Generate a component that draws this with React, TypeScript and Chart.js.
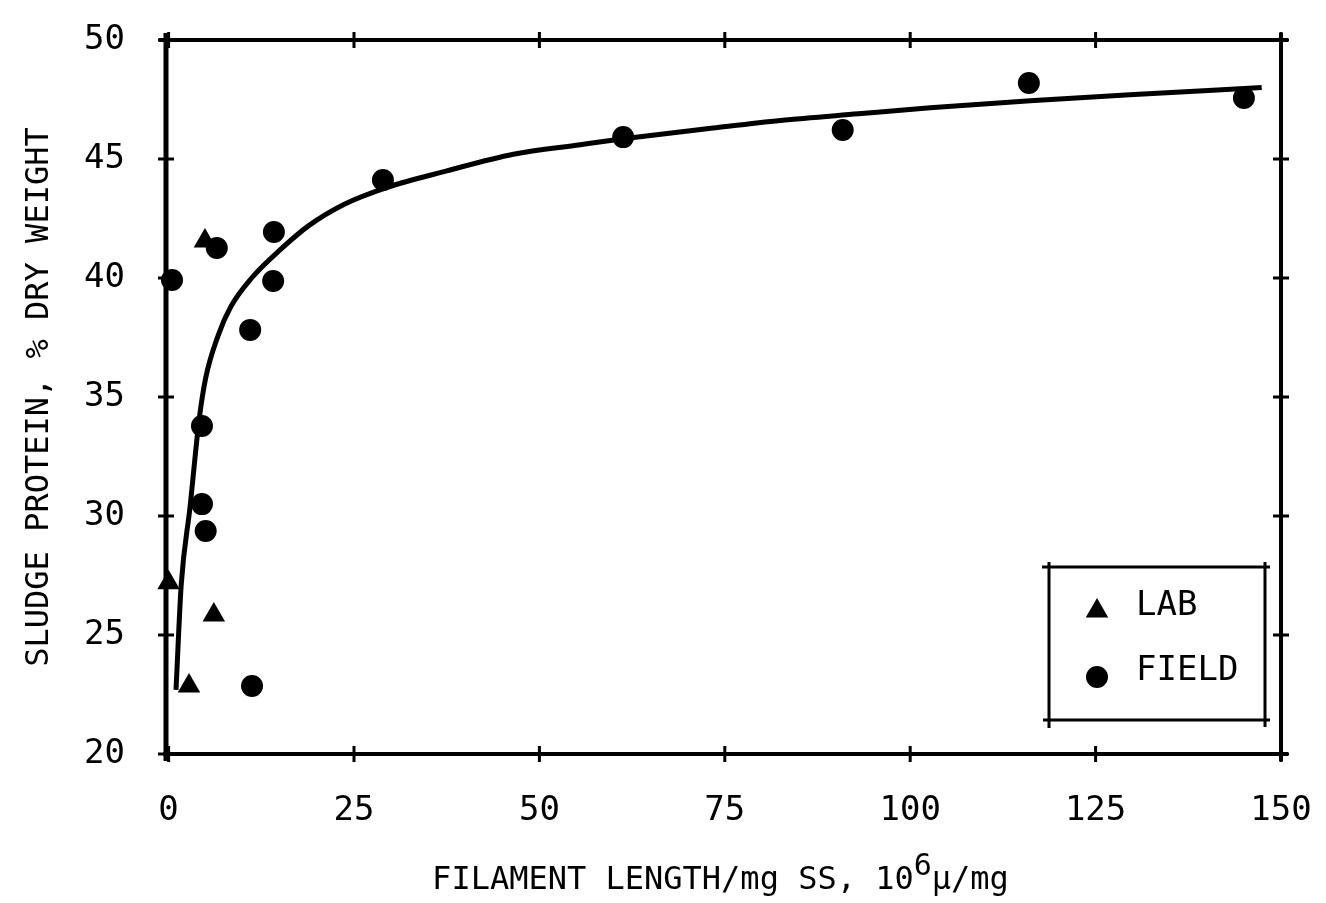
import React, { useEffect, useRef } from "react";
import { Chart, registerables } from "chart.js";

Chart.register(...registerables);

// ---- data ----
const xTicks = [0, 25, 50, 75, 100, 125, 150];
const yTicks = [20, 25, 30, 35, 40, 45, 50];

const seriesNames = ["LAB", "FIELD"];

const labX = [4.9, 0.0, 2.75, 6.1];
const labY = [41.55, 27.2, 22.86, 25.84];

const fieldX = [0.46, 6.5, 14.2, 14.1, 11.0, 4.5, 4.5, 5.0, 11.25, 28.9, 61.3, 90.9, 116.0, 145.0];
const fieldY = [39.92, 41.26, 41.93, 39.87, 37.82, 33.78, 30.5, 29.37, 22.86, 44.12, 45.92, 46.22, 48.19, 47.56];

const fitX = [1.0, 1.7, 2.9, 4.1, 5.0, 6.7, 8.4, 11.2, 15.1, 18.9, 23.7, 29.4, 37.5, 46.5, 55.5, 61.3, 73.4, 82.5, 93.0, 102.7, 116.2, 129.6, 147.4];
const fitY = [22.69, 27.1, 30.4, 34.0, 35.8, 37.6, 38.8, 40.0, 41.2, 42.2, 43.1, 43.8, 44.5, 45.2, 45.6, 45.85, 46.3, 46.62, 46.9, 47.15, 47.45, 47.7, 48.0];

const xTitleMain = "FILAMENT LENGTH/mg SS, 10";
const xTitleSup = "6";
const xTitleEnd = "\u03bc/mg";
const yTitle = "SLUDGE PROTEIN, % DRY WEIGHT";

const FONT = "'DejaVu Sans Mono', monospace";

function drawTriangle(ctx: CanvasRenderingContext2D, x: number, y: number, r: number) {
  let rad = 0;
  ctx.beginPath();
  ctx.moveTo(x + Math.sin(rad) * r, y - Math.cos(rad) * r);
  rad += (2 * Math.PI) / 3;
  ctx.lineTo(x + Math.sin(rad) * r, y - Math.cos(rad) * r);
  rad += (2 * Math.PI) / 3;
  ctx.lineTo(x + Math.sin(rad) * r, y - Math.cos(rad) * r);
  ctx.closePath();
  ctx.fill();
}

const framePlugin = {
  id: "frameTicks",
  beforeDatasetsDraw(chart: any) {
    const { ctx, chartArea: a, scales } = chart;
    const xs = scales.x;
    const ys = scales.y;
    ctx.save();
    ctx.strokeStyle = "#000";
    ctx.lineCap = "butt";
    ctx.lineWidth = 4;
    ctx.beginPath();
    ctx.moveTo(a.left - 7, a.top);
    ctx.lineTo(a.right + 7, a.top);
    ctx.moveTo(a.left - 3, a.bottom);
    ctx.lineTo(a.right + 7, a.bottom);
    ctx.moveTo(a.right, a.top - 7);
    ctx.lineTo(a.right, a.bottom + 7);
    ctx.stroke();
    ctx.lineWidth = 5;
    ctx.beginPath();
    ctx.moveTo(a.left, a.top - 7);
    ctx.lineTo(a.left, a.bottom + 7);
    ctx.stroke();
    ctx.lineWidth = 3;
    ctx.beginPath();
    for (const v of xTicks) {
      const px = xs.getPixelForValue(v);
      ctx.moveTo(px, a.top - 8);
      ctx.lineTo(px, a.top + 8);
      ctx.moveTo(px, a.bottom - 8);
      ctx.lineTo(px, a.bottom + 8);
    }
    for (const v of yTicks) {
      const py = ys.getPixelForValue(v);
      ctx.moveTo(a.left - 8, py);
      ctx.lineTo(a.left + 8, py);
      ctx.moveTo(a.right - 8, py);
      ctx.lineTo(a.right + 8, py);
    }
    ctx.stroke();
    ctx.restore();
  },
  afterDraw(chart: any) {
    const { ctx, chartArea: a } = chart;
    ctx.save();
    ctx.fillStyle = "#000";
    ctx.strokeStyle = "#000";

    // legend box
    ctx.lineWidth = 3;
    ctx.beginPath();
    ctx.moveTo(1042, 567);
    ctx.lineTo(1270, 567);
    ctx.moveTo(1043, 720);
    ctx.lineTo(1270, 720);
    ctx.moveTo(1049, 562);
    ctx.lineTo(1049, 728);
    ctx.moveTo(1265, 562);
    ctx.lineTo(1265, 727);
    ctx.stroke();
    drawTriangle(ctx, 1097, 611, 13);
    ctx.beginPath();
    ctx.arc(1097, 677, 11, 0, Math.PI * 2);
    ctx.fill();
    ctx.font = `34px ${FONT}`;
    ctx.textAlign = "left";
    ctx.textBaseline = "middle";
    ctx.fillText(seriesNames[0], 1136, 606);
    ctx.fillText(seriesNames[1], 1136, 671);

    // y title
    ctx.save();
    ctx.translate(40, (a.top + a.bottom) / 2);
    ctx.rotate(-Math.PI / 2);
    ctx.font = `32px ${FONT}`;
    ctx.textAlign = "center";
    ctx.textBaseline = "middle";
    ctx.fillText(yTitle, 0, 0);
    ctx.restore();

    // x title with superscript
    ctx.textBaseline = "alphabetic";
    ctx.textAlign = "left";
    ctx.font = `32px ${FONT}`;
    const w1 = ctx.measureText(xTitleMain).width;
    const w3 = ctx.measureText(xTitleEnd).width;
    ctx.font = `30px ${FONT}`;
    const w2 = ctx.measureText(xTitleSup).width;
    const total = w1 + w2 + w3;
    let sx = (a.left + a.right) / 2 - 3 - total / 2;
    const base = 889;
    ctx.font = `32px ${FONT}`;
    ctx.fillText(xTitleMain, sx, base);
    sx += w1;
    ctx.font = `30px ${FONT}`;
    ctx.fillText(xTitleSup, sx, base - 14);
    sx += w2;
    ctx.font = `32px ${FONT}`;
    ctx.fillText(xTitleEnd, sx, base);
    ctx.restore();
  },
};

function zeroPadding(scale: any) {
  scale.paddingTop = 0;
  scale.paddingBottom = 0;
  scale.paddingLeft = 0;
  scale.paddingRight = 0;
}

export default function App() {
  const ref = useRef<HTMLCanvasElement | null>(null);

  useEffect(() => {
    document.body.style.margin = "0";
    const canvas = ref.current;
    if (!canvas) return;
    const chart = new Chart(canvas, {
      type: "scatter",
      data: {
        datasets: [
          {
            label: "fit",
            data: fitX.map((x, i) => ({ x, y: fitY[i] })),
            showLine: true,
            borderColor: "#000",
            borderWidth: 5,
            pointRadius: 0,
            pointHoverRadius: 0,
            cubicInterpolationMode: "monotone",
            fill: false,
            clip: false as any,
            order: 3,
          } as any,
          {
            label: seriesNames[0],
            data: labX.map((x, i) => ({ x, y: labY[i] })),
            pointStyle: "triangle",
            pointRadius: 13,
            backgroundColor: "#000",
            borderColor: "#000",
            borderWidth: 0,
            clip: false as any,
            order: 1,
          } as any,
          {
            label: seriesNames[1],
            data: fieldX.map((x, i) => ({ x, y: fieldY[i] })),
            pointStyle: "circle",
            pointRadius: 11,
            backgroundColor: "#000",
            borderColor: "#000",
            borderWidth: 0,
            clip: false as any,
            order: 2,
          } as any,
        ],
      },
      options: {
        animation: false,
        responsive: false,
        events: [],
        layout: { padding: { top: 40, right: 45, bottom: 0, left: 0 } },
        plugins: {
          legend: { display: false },
          tooltip: { enabled: false },
          title: { display: false },
        },
        scales: {
          x: {
            type: "linear",
            min: -0.35,
            max: 150,
            border: { display: false },
            grid: { display: false, drawTicks: false },
            afterBuildTicks: (scale: any) => {
              scale.ticks = xTicks.map((v) => ({ value: v }));
            },
            afterFit: (scale: any) => {
              scale.height = 149;
              zeroPadding(scale);
            },
            ticks: {
              padding: 37,
              color: "#000",
              font: { family: FONT, size: 34 },
              maxRotation: 0,
              autoSkip: false,
            },
          },
          y: {
            type: "linear",
            min: 20,
            max: 50,
            border: { display: false },
            grid: { display: false, drawTicks: false },
            afterBuildTicks: (scale: any) => {
              scale.ticks = yTicks.map((v) => ({ value: v }));
            },
            afterFit: (scale: any) => {
              scale.width = 166;
              zeroPadding(scale);
            },
            ticks: {
              padding: 41,
              color: "#000",
              font: { family: FONT, size: 34 },
              autoSkip: false,
            },
          },
        },
      } as any,
      plugins: [framePlugin],
    });
    return () => chart.destroy();
  }, []);

  return (
    <div style={{ width: 1326, height: 903, background: "#fff" }}>
      <canvas ref={ref} width={1326} height={903} style={{ display: "block" }} />
    </div>
  );
}
